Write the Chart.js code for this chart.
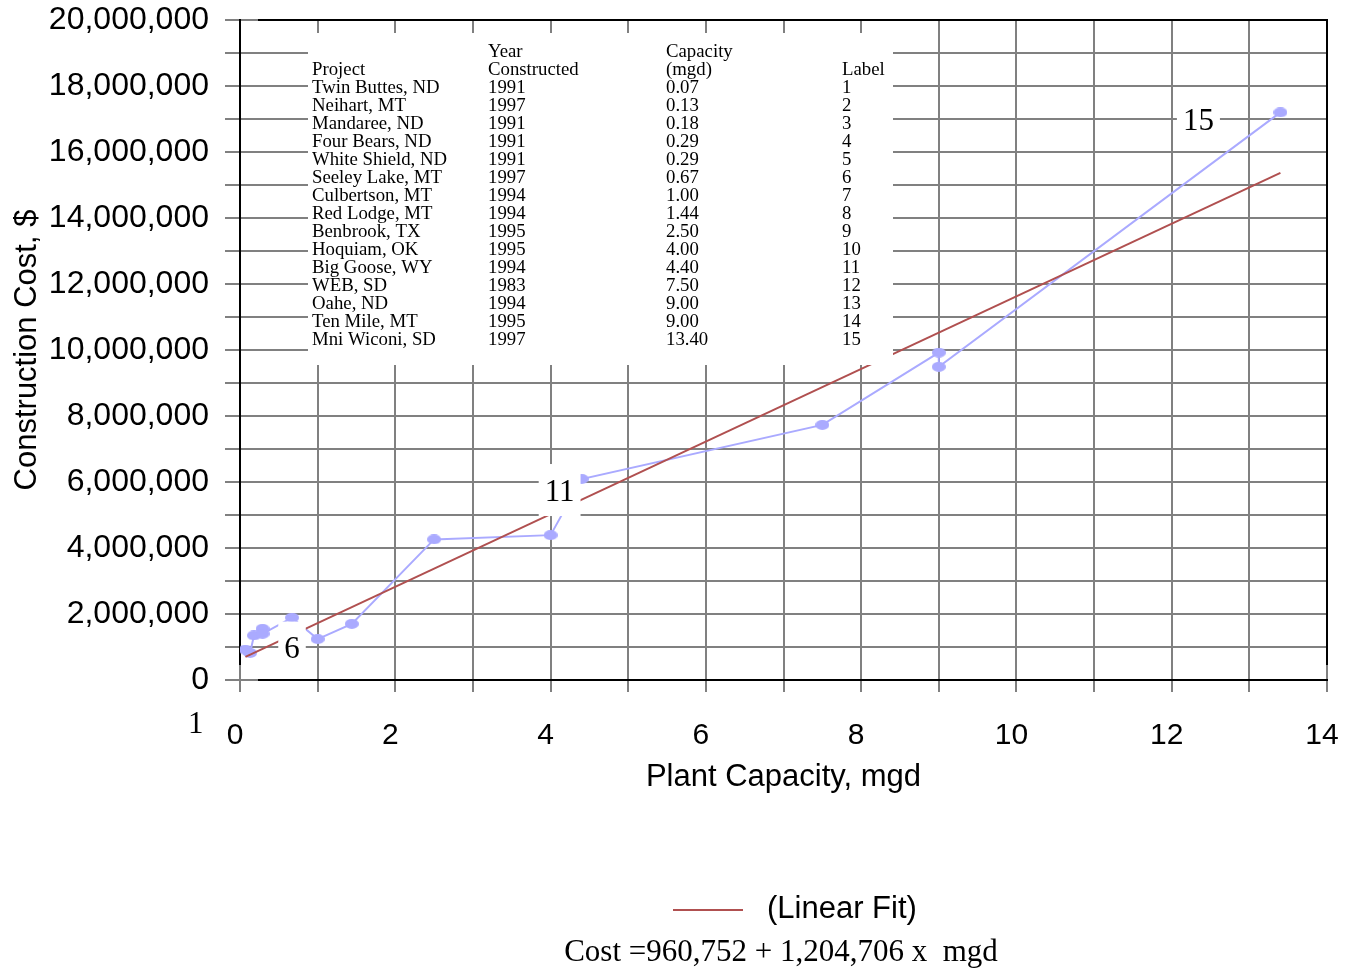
<!DOCTYPE html>
<html lang="en">
<head>
<meta charset="UTF-8">
<title>Construction Cost vs Plant Capacity</title>
<script src="https://cdn.jsdelivr.net/npm/chart.js"></script>
<style>
  body { margin: 0; background: #fff; }
  .chart-box { position: relative; width: 1348px; height: 971px; }
</style>
</head>
<body>
<div class="chart-box"><canvas id="costChart"></canvas></div>
<script>
// project table
const projects = ['Twin Buttes, ND', 'Neihart, MT', 'Mandaree, ND', 'Four Bears, ND', 'White Shield, ND',
  'Seeley Lake, MT', 'Culbertson, MT', 'Red Lodge, MT', 'Benbrook, TX', 'Hoquiam, OK',
  'Big Goose, WY', 'WEB, SD', 'Oahe, ND', 'Ten Mile, MT', 'Mni Wiconi, SD'];
const years = [1991, 1997, 1991, 1991, 1991, 1997, 1994, 1994, 1995, 1995, 1994, 1983, 1994, 1995, 1997];
const capacities = [0.07, 0.13, 0.18, 0.29, 0.29, 0.67, 1.00, 1.44, 2.50, 4.00, 4.40, 7.50, 9.00, 9.00, 13.40];
const labelNums = [1, 2, 3, 4, 5, 6, 7, 8, 9, 10, 11, 12, 13, 14, 15];

// construction cost, $
const costs = [920000, 820000, 1350000, 1550000, 1400000, 1890000, 1240000, 1700000,
  4260000, 4390000, 6090000, 7730000, 9920000, 9490000, 17200000];

// fitted line as drawn
const fitX = [0.07, 13.4];
const fitY = [700000, 15370000];
const fitEquation = 'Cost =960,752 + 1,204,706 x  mgd';

// points that carry a label on the plot
const taggedLabels = [6, 11, 15];

const SERIF = '"Liberation Serif", "Times New Roman", serif';
const SANS = '"Liberation Sans", Arial, sans-serif';
const BLUE = '#aaaaff';
const RED = '#b05050';
const GRID = '#808080';

// offsets of the tag text from its point, px
const tagOffsets = { 6: [0, 30], 11: [-22, 11], 15: [-82, 7] };

function ellipseMarker(w, h, color) {
  const c = document.createElement('canvas');
  c.width = w;
  c.height = h;
  const g = c.getContext('2d');
  g.fillStyle = color;
  g.beginPath();
  g.ellipse(w / 2, h / 2, w / 2, h / 2, 0, 0, Math.PI * 2);
  g.fill();
  return c;
}

// keep the plot area where the layout padding puts it
function noOverhang(s) {
  s.paddingTop = 0;
  s.paddingBottom = 0;
  s.paddingLeft = 0;
  s.paddingRight = 0;
}

const framePlugin = {
  id: 'frame',
  beforeDatasetsDraw(chart) {
    const { ctx, chartArea: a } = chart;
    ctx.save();
    ctx.strokeStyle = '#000';
    ctx.lineWidth = 2;
    ctx.beginPath();
    ctx.moveTo(a.left + 18, a.top); ctx.lineTo(a.right + 1, a.top);
    ctx.moveTo(a.left + 18, a.bottom); ctx.lineTo(a.right + 1, a.bottom);
    ctx.moveTo(a.left, a.top - 1); ctx.lineTo(a.left, a.bottom - 15);
    ctx.moveTo(a.right, a.top - 1); ctx.lineTo(a.right, a.bottom - 15);
    ctx.stroke();
    ctx.restore();
  }
};

const overlayPlugin = {
  id: 'overlay',
  afterDatasetsDraw(chart) {
    const ctx = chart.ctx;
    const xs = chart.scales.x, ys = chart.scales.y;
    ctx.save();

    // table box
    ctx.fillStyle = '#fff';
    ctx.fillRect(308, 33, 585, 332);
    ctx.fillStyle = '#000';
    ctx.font = '18.8px ' + SERIF;
    ctx.textBaseline = 'alphabetic';
    ctx.textAlign = 'left';
    const cols = [312, 488, 666, 842];
    const base = 56.5, row = 18;
    ctx.fillText('Year', cols[1], base);
    ctx.fillText('Capacity', cols[2], base);
    ctx.fillText('Project', cols[0], base + row);
    ctx.fillText('Constructed', cols[1], base + row);
    ctx.fillText('(mgd)', cols[2], base + row);
    ctx.fillText('Label', cols[3], base + row);
    projects.forEach((p, i) => {
      const y = base + row * (i + 2);
      ctx.fillText(p, cols[0], y);
      ctx.fillText(String(years[i]), cols[1], y);
      ctx.fillText(capacities[i].toFixed(2), cols[2], y);
      ctx.fillText(String(labelNums[i]), cols[3], y);
    });

    // point tags
    ctx.font = '31px ' + SERIF;
    ctx.textAlign = 'center';
    taggedLabels.forEach(n => {
      const i = labelNums.indexOf(n);
      const off = tagOffsets[n];
      const cx = xs.getPixelForValue(capacities[i]) + off[0];
      const cy = ys.getPixelForValue(costs[i]) + off[1];
      const t = String(n);
      const w = ctx.measureText(t).width + 12;
      ctx.fillStyle = '#fff';
      ctx.fillRect(cx - w / 2, cy - 26, w, 52);
      ctx.fillStyle = '#000';
      ctx.fillText(t, cx, cy + 10.5);
    });
    ctx.restore();
  },
  afterDraw(chart) {
    const ctx = chart.ctx;
    ctx.save();
    // stray label under the y axis
    ctx.fillStyle = '#000';
    ctx.font = '31px ' + SERIF;
    ctx.textAlign = 'left';
    ctx.textBaseline = 'alphabetic';
    ctx.fillText('1', 188, 733);

    // legend
    ctx.strokeStyle = RED;
    ctx.lineWidth = 2;
    ctx.beginPath();
    ctx.moveTo(673, 910);
    ctx.lineTo(743, 910);
    ctx.stroke();
    ctx.font = '31px ' + SANS;
    ctx.textBaseline = 'middle';
    ctx.fillText('(Linear Fit)', 767, 909);
    ctx.font = '31px ' + SERIF;
    ctx.textAlign = 'center';
    ctx.textBaseline = 'alphabetic';
    ctx.fillText(fitEquation, 781, 961);
    ctx.restore();
  }
};

const marker = ellipseMarker(14, 10, BLUE);

new Chart(document.getElementById('costChart'), {
  type: 'line',
  data: {
    datasets: [
      {
        label: '(Linear Fit)',
        data: fitX.map((x, i) => ({ x: x, y: fitY[i] })),
        borderColor: RED,
        borderWidth: 2,
        pointRadius: 0,
        order: 0
      },
      {
        label: 'Projects',
        data: capacities.map((x, i) => ({ x: x, y: costs[i] })),
        borderColor: BLUE,
        backgroundColor: BLUE,
        borderWidth: 2,
        pointStyle: marker,
        pointRadius: 6,
        order: 1
      }
    ]
  },
  options: {
    responsive: true,
    maintainAspectRatio: false,
    animation: false,
    layout: { padding: { top: 20, right: 21, left: 0, bottom: 0 } },
    plugins: { legend: { display: false }, tooltip: { enabled: false } },
    scales: {
      x: {
        type: 'linear',
        min: 0,
        max: 14,
        afterFit: s => { s.height = 291; noOverhang(s); },
        grid: { color: GRID, lineWidth: 2, tickLength: 12 },
        border: { display: false },
        ticks: {
          stepSize: 1,
          autoSkip: false,
          maxRotation: 0,
          padding: 26,
          labelOffset: -5,
          color: '#000',
          font: { family: SANS, size: 30 },
          callback: v => (v % 2 === 0 ? String(v) : '')
        },
        title: {
          display: true,
          text: 'Plant Capacity, mgd',
          color: '#000',
          font: { family: SANS, size: 31 },
          padding: { top: 0, bottom: 174.5 }
        }
      },
      y: {
        min: 0,
        max: 20000000,
        afterFit: s => { s.width = 240; noOverhang(s); },
        grid: { color: GRID, lineWidth: 2, tickLength: 15 },
        border: { display: false },
        ticks: {
          stepSize: 1000000,
          maxTicksLimit: 30,
          autoSkip: false,
          padding: 16,
          color: '#000',
          font: { family: SANS, size: 32 },
          callback: v => (v % 2000000 === 0 ? v.toLocaleString('en-US') : '')
        },
        title: {
          display: true,
          text: 'Construction Cost, $',
          color: '#000',
          font: { family: SANS, size: 31 },
          padding: { top: 8.4, bottom: 0 }
        }
      }
    }
  },
  plugins: [framePlugin, overlayPlugin]
});
</script>
</body>
</html>
